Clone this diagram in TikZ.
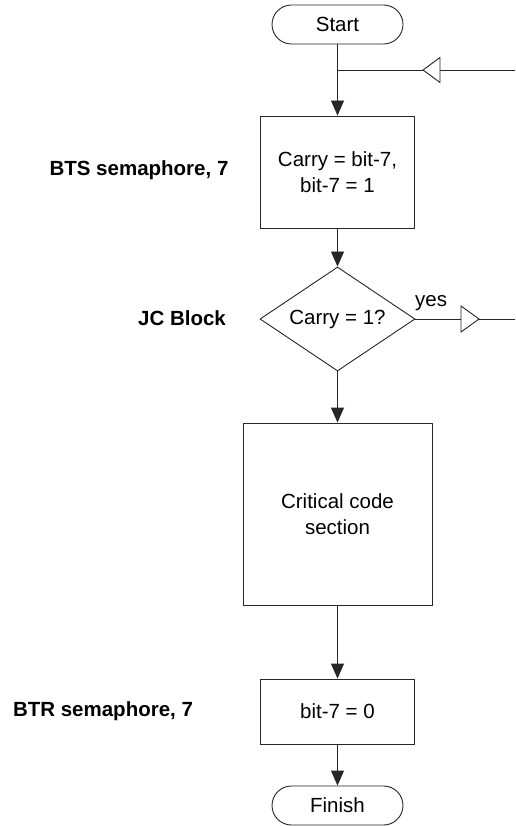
\documentclass[tikz,border=0pt]{standalone}
\usepackage{fontspec}
\setmainfont{Liberation Sans}
\usetikzlibrary{shapes.geometric,arrows.meta}
\begin{document}
\begin{tikzpicture}[x=1pt,y=-1pt,
  every node/.style={font=\fontsize{20.5}{25.5}\selectfont},
  line/.style={draw=black!85, line width=0.9pt},
  box/.style={line, rectangle, align=center, inner sep=0pt},
  term/.style={line, rectangle, rounded corners=19.5pt, minimum width=131pt, minimum height=39pt, inner sep=0pt},
  lbl/.style={font=\fontsize{20.5}{25.5}\selectfont\bfseries},
  arr/.style={line, -{Triangle[width=13pt,length=15pt]}},
  opentri/.style={line, fill=white, line join=miter}]
\useasboundingbox (0,0) rectangle (515,826);

\node[term] (start) at (337.5,24.5) {Start};
\node[box, minimum width=154pt, minimum height=112pt] (b1) at (337.5,172) {Carry = bit-7,\\bit-7 = 1};
\node[line, diamond, aspect=1.49, minimum width=155pt, minimum height=104pt, inner sep=0pt] (dec) at (337.5,319) {Carry = 1?};
\node[box, minimum width=189pt, minimum height=182pt] (crit) at (337.5,514) {Critical code\\section};
\node[box, minimum width=154pt, minimum height=65pt] (b3) at (337.5,711.5) {bit-7 = 0};
\node[term] (finish) at (337.5,805.5) {Finish};

\node[lbl] (l1) at (139,170) {BTS semaphore, 7};
\node[lbl] (l2) at (182,318) {JC Block};
\node[lbl] (l3) at (103,711) {BTR semaphore, 7};
\node[anchor=base west, inner sep=0pt] (yes) at (415,306) {yes};

\coordinate (j) at (337.5,70);
\coordinate (r1) at (515,70);
\coordinate (r2) at (515,319);

\draw[arr] (start) -- (b1);
\draw[line] (r1) -- (j);
\draw[opentri] (423,70) -- (440,57.5) -- (440,82.5) -- cycle;
\draw[arr] (b1) -- (dec);
\draw[line] (dec.east) -- (r2);
\draw[opentri] (479,319) -- (461,306) -- (461,332) -- cycle;
\draw[arr] (dec) -- (crit);
\draw[arr] (crit) -- (b3);
\draw[arr] (b3) -- (finish);
\end{tikzpicture}
\end{document}
